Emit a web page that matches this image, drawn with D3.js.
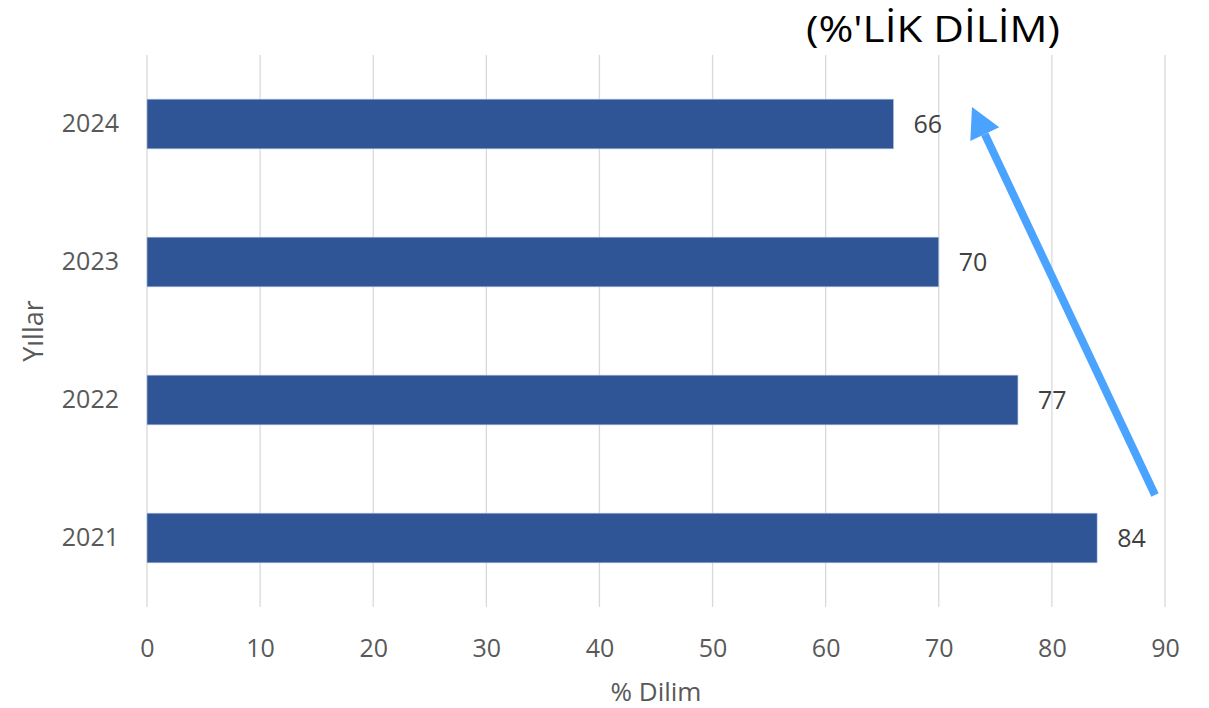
<!DOCTYPE html>
<html><head><meta charset="utf-8">
<script src="https://cdn.jsdelivr.net/npm/d3@7"></script>
<style>body{margin:0;background:#fff}svg{display:block}</style>
</head><body>
<script>
const years = ["2021","2022","2023","2024"];
const values = [84, 77, 70, 66];
const xTicks = [0,10,20,30,40,50,60,70,80,90];
const title = "(%'LİK DİLİM)";
const xTitle = "% Dilim";
const yTitle = "Yıllar";

const W = 1209, H = 708;
const m = {left:147, right:W-1165, top:55, bottom:H-607};
const svg = d3.select("body").append("svg").attr("width",W).attr("height",H);
const font = "'Open Sans', 'Noto Sans', sans-serif";

const x = d3.scaleLinear().domain([0,90]).range([m.left, W-m.right]);
const y = d3.scaleBand().domain(years.slice().reverse()).range([m.top, H-m.bottom]).paddingInner(0.64).paddingOuter(0.32);

// gridlines
svg.append("g").selectAll("line").data(xTicks).join("line")
  .attr("x1",d=>x(d)).attr("x2",d=>x(d)).attr("y1",m.top).attr("y2",H-m.bottom)
  .attr("stroke","#d9d9d9").attr("stroke-width",1.3);

// x axis labels
const xAxis = d3.axisBottom(x).tickValues(xTicks).tickSize(0).tickPadding(0);
const gx = svg.append("g").attr("transform",`translate(0,657)`).call(xAxis);
gx.select(".domain").remove();
gx.selectAll("text").attr("font-family",font).attr("font-size",25).attr("fill","#595959").attr("dy","0");

// y axis labels
const yAxis = d3.axisLeft(y).tickSize(0).tickPadding(28);
const gy = svg.append("g").attr("transform",`translate(${m.left},0)`).call(yAxis);
gy.select(".domain").remove();
gy.selectAll("text").attr("font-family",font).attr("font-size",25).attr("fill","#595959");

// bars
const data = years.map((yr,i)=>({yr, v:values[i]}));
svg.append("g").selectAll("rect").data(data).join("rect")
  .attr("x",x(0)).attr("y",d=>y(d.yr)).attr("width",d=>x(d.v)-x(0)).attr("height",y.bandwidth())
  .attr("fill","#2f5597").attr("stroke","#b4c7e7").attr("stroke-width",0.6);

// value labels
svg.append("g").selectAll("text").data(data).join("text")
  .attr("x",d=>x(d.v)+20).attr("y",d=>y(d.yr)+y.bandwidth()/2).attr("dy","0.36em")
  .attr("font-family",font).attr("font-size",25).attr("fill","#404040").text(d=>d.v);

// axis titles
svg.append("text").attr("x",(x(0)+x(90))/2).attr("y",701).attr("text-anchor","middle")
  .attr("font-family",font).attr("font-size",26).attr("fill","#595959").text(xTitle);
svg.append("text").attr("transform",`translate(43,${(m.top+H-m.bottom)/2}) rotate(-90)`).attr("text-anchor","middle")
  .attr("font-family",font).attr("font-size",27).attr("fill","#595959").text(yTitle);

// title
svg.append("text").attr("x",933).attr("y",42).attr("text-anchor","middle")
  .attr("font-family",font).attr("font-size",37).attr("fill","#000")
  .attr("textLength",254).attr("lengthAdjust","spacingAndGlyphs").text(title);

// arrow
const tail = [1155,495], tip = [972,107];
const ang = Math.atan2(tip[1]-tail[1], tip[0]-tail[0]);
const headLen = 30, headW = 16;
const bx = tip[0]-headLen*Math.cos(ang), by = tip[1]-headLen*Math.sin(ang);
svg.append("line").attr("x1",tail[0]).attr("y1",tail[1]).attr("x2",bx).attr("y2",by)
  .attr("stroke","#4aa3ff").attr("stroke-width",8);
const px = -Math.sin(ang), py = Math.cos(ang);
svg.append("path").attr("d",`M${tip[0]},${tip[1]} L${bx+px*headW},${by+py*headW} L${bx-px*headW},${by-py*headW} Z`)
  .attr("fill","#4aa3ff");
</script>
</body></html>
